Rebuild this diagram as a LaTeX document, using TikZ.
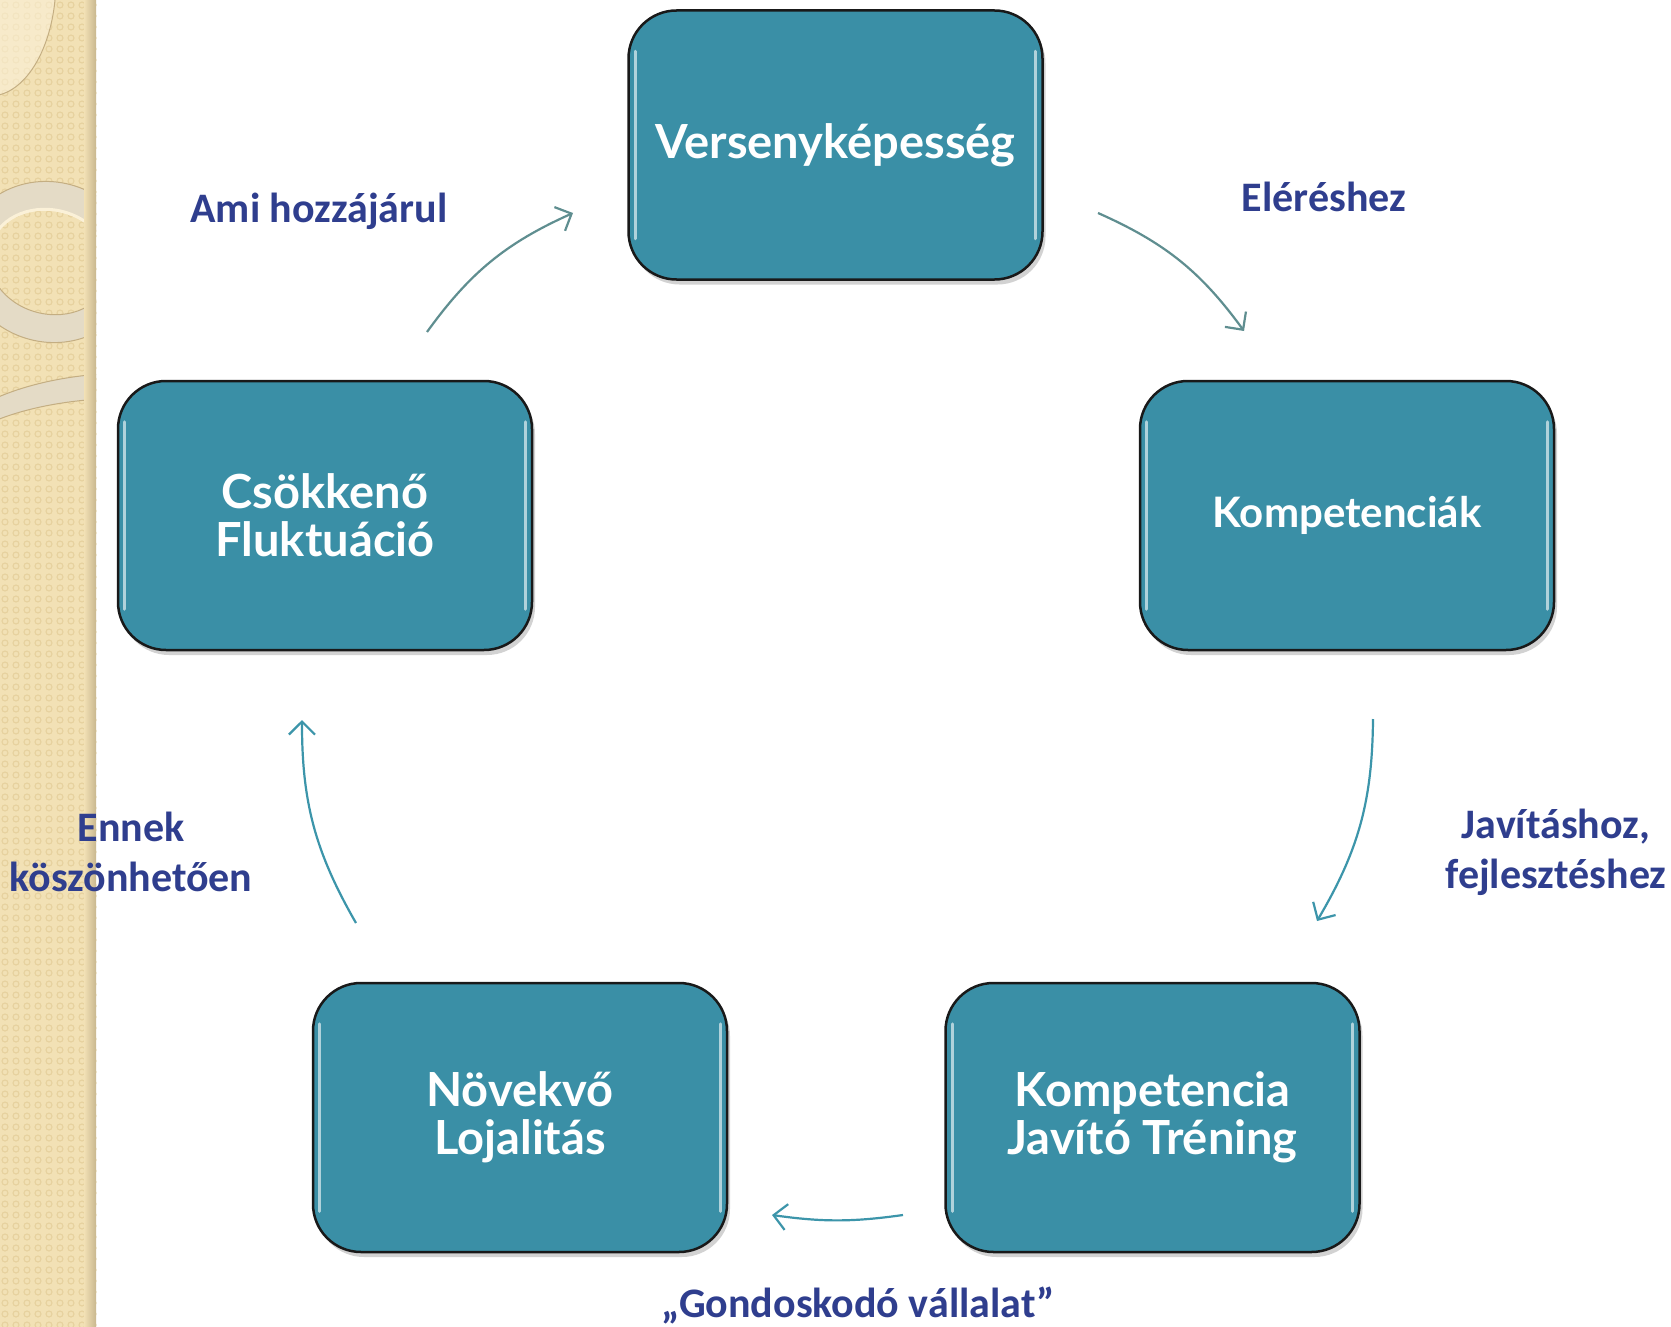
\documentclass[tikz,border=0pt]{standalone}
\usepackage{fontspec}
\setmainfont{Carlito}
\newfontfamily\boxfont{Lato}
\usetikzlibrary{arrows.meta,shadows,calc}
\definecolor{boxteal}{HTML}{3A8FA6}
\definecolor{lblue}{HTML}{2F3E8E}
\definecolor{arrgrey}{HTML}{5F8E90}
\definecolor{arrteal}{HTML}{3C95AA}
\definecolor{strip}{HTML}{F2E1B5}
\definecolor{stripdot}{HTML}{E6D19E}
\definecolor{stripshadow}{HTML}{C9B78F}
\definecolor{ringband}{HTML}{E4DBC6}
\definecolor{ringedge}{HTML}{C4AE82}
\definecolor{ringlight}{HTML}{FBF1D8}
\tikzset{
  box/.style={draw=black!90, line width=2.5pt, fill=boxteal, rounded corners=48pt,
    minimum width=414pt, minimum height=269pt, text=white, align=center,
    font=\boxfont\bfseries\fontsize{47}{48}\selectfont,
    drop shadow={shadow xshift=3pt, shadow yshift=-5pt, opacity=0.35}},
  hl/.style={draw=white, line width=3pt, opacity=0.6, line cap=round},
  lbl/.style={text=lblue, align=center, font=\bfseries\fontsize{42}{50}\selectfont},
  arr/.style={line width=2.2pt, -{Straight Barb[length=13pt,width=26pt]}}
}
\newcommand{\glossy}[1]{%
  \draw[hl] ([xshift=8pt,yshift=-42pt]#1.north west) -- ([xshift=8pt,yshift=42pt]#1.south west);
  \draw[hl] ([xshift=-8pt,yshift=-42pt]#1.north east) -- ([xshift=-8pt,yshift=42pt]#1.south east);
}
\begin{document}
\begin{tikzpicture}[x=1pt,y=-1pt]
\useasboundingbox (0,0) rectangle (1671,1327);
\fill[white] (0,0) rectangle (1671,1327);
% left decorative strip
\fill[strip] (0,0) rectangle (96,1327);
\foreach \i in {0,...,8}{\foreach \j in {0,...,120}{
  \draw[stripdot, line width=1.1pt] (\i*11+5,\j*11+5) circle (3);}}
\begin{scope}
\clip (0,0) rectangle (96,1327);
\fill[ringlight, opacity=0.6] (-10,-20) ellipse [x radius=66, y radius=116];
\draw[ringedge, line width=1pt] (-10,-20) ellipse [x radius=66, y radius=116];
\begin{scope}[rotate around={-15:(50,262)}]
\fill[ringband, even odd rule] (50,262) ellipse [x radius=88, y radius=80] (50,262) ellipse [x radius=62, y radius=52];
\draw[ringedge, line width=1pt] (50,262) ellipse [x radius=88, y radius=80];
\draw[ringedge, line width=1pt] (50,262) ellipse [x radius=62, y radius=52];
\draw[ringlight, line width=3pt] (50,262) ++(200:62 and 52) arc [start angle=200, end angle=340, x radius=62, y radius=52];
\end{scope}
\clip (0,0) rectangle (96,440);
\fill[ringband, even odd rule] (130,470) ellipse [x radius=200, y radius=97] (130,470) ellipse [x radius=185, y radius=72];
\draw[ringedge, line width=1pt] (130,470) ellipse [x radius=200, y radius=97];
\draw[ringedge, line width=1pt] (130,470) ellipse [x radius=185, y radius=72];
\end{scope}
\shade[left color=strip, right color=stripshadow] (84,0) rectangle (96,1327);
% boxes
\node[box] (top) at (835.5,145) {Versenyképesség};
\node[box, font=\boxfont\bfseries\fontsize{42}{46}\selectfont] (right) at (1347,515.5) {Kompetenciák};
\node[box] (br) at (1152.5,1117.5) {Kompetencia\\Javító Tréning};
\node[box] (bl) at (520,1117.5) {Növekvő\\Lojalitás};
\node[box] (left) at (325,515.5) {Csökkenő\\Fluktuáció};
\glossy{top}\glossy{right}\glossy{br}\glossy{bl}\glossy{left}
% labels
\node[lbl] (l1) at (319,211) {Ami hozzájárul};
\node[lbl] (l2) at (1324,197) {Eléréshez};
\node[lbl] (l3) at (1556,852) {Javításhoz,\\fejlesztéshez};
\node[lbl] (l4) at (131,852) {Ennek\\köszönhetően};
\node[lbl] (l5) at (858,1305) {„Gondoskodó vállalat”};
% arrows
\coordinate (a1s) at (427,332); \coordinate (a1e) at (573,213);
\coordinate (a2s) at (1098,213); \coordinate (a2e) at (1244,331);
\coordinate (a3s) at (1373,719); \coordinate (a3e) at (1317,921);
\coordinate (a4s) at (903,1215); \coordinate (a4e) at (772,1215);
\coordinate (a5s) at (356,923); \coordinate (a5e) at (302,720);
\draw[arr, arrgrey] (a1s) to[bend left=15] (a1e);
\draw[arr, arrgrey] (a2s) to[bend left=15] (a2e);
\draw[arr, arrteal] (a3s) to[bend left=15] (a3e);
\draw[arr, arrteal] (a4s) to[bend left=8] (a4e);
\draw[arr, arrteal] (a5s) to[bend left=15] (a5e);
\end{tikzpicture}
\end{document}
